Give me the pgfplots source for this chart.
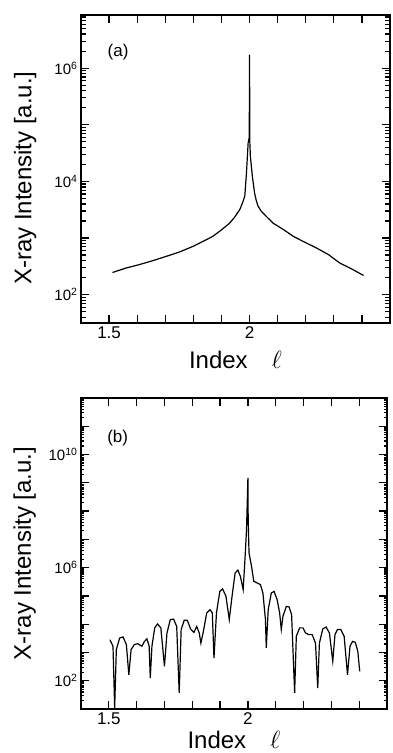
\documentclass[border=0pt]{standalone}
\usepackage{fontspec}
\setmainfont{Liberation Sans}
\usepackage{pgfplots}
\pgfplotsset{compat=1.18}

\pgfplotstableread{
x y
1.512 246
1.560 295
1.607 339
1.655 398
1.703 474
1.750 565
1.798 711
1.834 871
1.869 1070
1.899 1380
1.929 1830
1.947 2340
1.965 3170
1.974 4050
1.983 5460
1.989 14000
1.995 48000
1.999 60000
2.000 1.74e6
2.001 50000
2.003 27500
2.010 12300
2.018 6200
2.024 4600
2.030 3700
2.040 3050
2.060 2400
2.084 1830
2.120 1420
2.156 1070
2.191 871
2.239 665
2.281 510
2.322 360
2.364 284
2.406 218
}\dataA

\pgfplotstableread{
x y
1.504 2820
1.515 1660
1.521 11
1.527 1260
1.539 3240
1.551 3550
1.563 1910
1.572 162
1.580 1260
1.592 1910
1.604 2040
1.619 1660
1.628 2450
1.637 3020
1.645 1660
1.649 126
1.655 1660
1.665 7410
1.675 10200
1.687 7410
1.700 324
1.709 4900
1.721 14500
1.733 15100
1.744 8320
1.753 37
1.760 6460
1.771 13800
1.782 13800
1.794 6760
1.806 5130
1.816 8320
1.825 4900
1.831 2140
1.840 5620
1.852 25100
1.864 32400
1.872 25100
1.878 631
1.887 25100
1.899 1.45e5
1.909 1.78e5
1.921 9.77e4
1.933 1.45e4
1.943 9.77e4
1.954 6.46e5
1.964 8.13e5
1.973 4.90e5
1.983 1.66e5
1.990 2.51e6
1.995 2.19e7
2.000 1.48e9
2.001 5.01e7
2.004 3.31e6
2.013 1.12e6
2.021 3.31e5
2.033 2.88e5
2.045 2.51e5
2.054 1.26e5
2.063 1.45e4
2.066 1450
2.073 3.24e4
2.084 1.26e5
2.094 1.45e5
2.105 7.41e4
2.114 2.51e4
2.120 6460
2.126 1.91e4
2.138 4.27e4
2.148 4.07e4
2.157 2.19e4
2.168 37
2.174 3720
2.186 7410
2.198 7410
2.207 4900
2.219 4270
2.231 4270
2.243 2140
2.251 55
2.257 2140
2.269 6760
2.281 7940
2.293 4900
2.305 490
2.313 4270
2.322 6460
2.334 6460
2.346 3720
2.358 162
2.367 1660
2.376 2450
2.386 2290
2.395 1100
2.402 214
}\dataB

\pgfplotsset{
  myax/.style={
    scale only axis,
    xmin=1.4, xmax=2.5,
    xtick={1.5,1.6,1.7,1.8,1.9,2.0,2.1,2.2,2.3,2.4},
    xticklabels={1.5,,,,,2,,,,},
    axis line style={line width=1.6pt},
    major tick length=8pt,
    minor tick length=5pt,
    every tick/.append style={black, line width=1.2pt},
    tick align=inside,
    xticklabel style={font=\fontsize{17}{17}\selectfont},
    yticklabel style={font=\fontsize{15}{15}\selectfont},
    xlabel={Index\quad $\ell$},
    ylabel={X-ray Intensity [a.u.]},
    label style={font=\fontsize{24}{26}\selectfont},
  }
}

\begin{document}
\begin{tikzpicture}
\path[use as bounding box] (0,0) rectangle (392pt,753pt);

\begin{axis}[ymode=log, myax,
  at={(81pt,430pt)}, anchor=south west,
  width=309pt, height=308pt,
  ymin=31.6, ymax=8.7e6,
  ytick={1e2,1e3,1e4,1e5,1e6},
  yticklabels={10\textsuperscript{2},,10\textsuperscript{4},,10\textsuperscript{6}},
  minor ytick={40,50,60,70,80,90,
    200,300,400,500,600,700,800,900,
    2000,3000,4000,5000,6000,7000,8000,9000,
    2e4,3e4,4e4,5e4,6e4,7e4,8e4,9e4,
    2e5,3e5,4e5,5e5,6e5,7e5,8e5,9e5,
    2e6,3e6,4e6,5e6,6e6,7e6,8e6},
  xlabel style={at={(axis description cs:0.5,-0.12)}, anchor=center},
  ylabel style={at={(axis description cs:-0.181,0.47)}, anchor=center},
]
\addplot[black, line width=1.2pt, mark=none] table[x=x,y=y] {\dataA};
\node[font=\fontsize{17}{17}\selectfont] at (rel axis cs:0.12,0.88) {(a)};
\end{axis}

\begin{axis}[ymode=log, myax,
  at={(81pt,44pt)}, anchor=south west,
  width=306pt, height=311pt,
  ymin=10, ymax=1e12,
  ytick={1e1,1e2,1e3,1e4,1e5,1e6,1e7,1e8,1e9,1e10,1e11,1e12},
  yticklabels={,10\textsuperscript{2},,,,10\textsuperscript{6},,,,10\textsuperscript{10},,},
  minor ytick={20,30,40,50,60,70,80,90,
    200,300,400,500,600,700,800,900,
    2000,3000,4000,5000,6000,7000,8000,9000,
    2e4,3e4,4e4,5e4,6e4,7e4,8e4,9e4,
    2e5,3e5,4e5,5e5,6e5,7e5,8e5,9e5,
    2e6,3e6,4e6,5e6,6e6,7e6,8e6,9e6,
    2e7,3e7,4e7,5e7,6e7,7e7,8e7,9e7,
    2e8,3e8,4e8,5e8,6e8,7e8,8e8,9e8,
    2e9,3e9,4e9,5e9,6e9,7e9,8e9,9e9,
    2e10,3e10,4e10,5e10,6e10,7e10,8e10,9e10,
    2e11,3e11,4e11,5e11,6e11,7e11,8e11,9e11},
  xlabel style={at={(axis description cs:0.5,-0.098)}, anchor=center},
  ylabel style={at={(axis description cs:-0.184,0.5)}, anchor=center},
  minor tick length=3pt,
]
\addplot[black, line width=1.2pt, mark=none] table[x=x,y=y] {\dataB};
\node[font=\fontsize{17}{17}\selectfont] at (rel axis cs:0.12,0.87) {(b)};
\end{axis}
\end{tikzpicture}
\end{document}
